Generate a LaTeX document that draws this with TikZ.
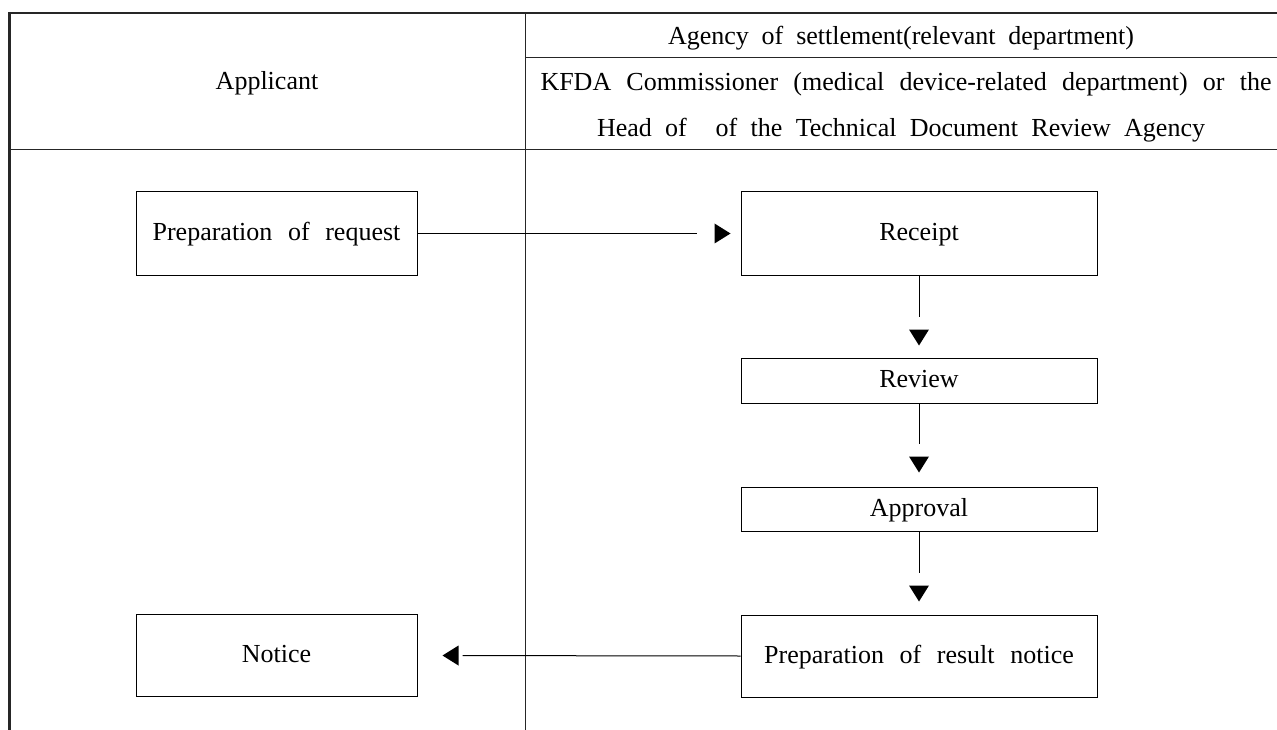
\documentclass[tikz,border=0pt]{standalone}
\usepackage{fontspec}
\setmainfont{Liberation Serif}
\newcommand\diagfont{\fontsize{26}{30}\selectfont}
\newcommand\widespaces{\spaceskip=0.6em plus 0.3em minus 0.3em\relax}
\begin{document}
\begin{tikzpicture}[x=1pt,y=-1pt,
  txt/.style={font=\diagfont, inner sep=0pt, text height=19pt, text depth=5pt, execute at begin node=\widespaces},
  box/.style={txt, draw, line width=1pt},
  frameline/.style={line width=2.5pt, black!85},
  rule/.style={line width=1pt, black!85},
  conn/.style={line width=1pt},
  tip/.style={fill=black}]
\useasboundingbox (0,0) rectangle (1277,730);

% table frame
\draw[frameline] (8,13) -- (1277,13);
\draw[frameline] (9.5,12) -- (9.5,730);
\draw[rule] (525,13) -- (525,730);
\draw[rule] (525,58) -- (1277,58);
\draw[rule] (9,150) -- (1277,150);

% header texts
\node[txt] (app) at (267,82.3) {Applicant};
\node[txt] (agency) at (901,38) {\makebox[466pt][s]{Agency of settlement(relevant department)}};
\node[txt] (kfda) at (906,83.7) {\makebox[731pt][s]{KFDA Commissioner (medical device-related department) or the}};
\node[txt] (head) at (901,130) {\makebox[608pt][s]{Head of\hspace{0.6em} of the Technical Document Review Agency}};

% boxes
\node[box, minimum width=281pt, minimum height=83pt] (req) at (276.5,233.5) {Preparation of request};
\node[box, minimum width=281pt, minimum height=82pt] (notice) at (276.5,655.5) {Notice};
\node[box, minimum width=356pt, minimum height=83pt] (rec) at (919,233.5) {Receipt};
\node[box, minimum width=356pt, minimum height=45pt] (rev) at (919,380.5) {Review};
\node[box, minimum width=356pt, minimum height=44pt] (appr) at (919,509) {Approval};
\node[box, minimum width=356pt, minimum height=82pt] (res) at (919,656) {Preparation of result notice};

% connectors (line, gap, filled triangle, gap)
\draw[conn, shorten >=44pt] (req.east) -- (rec.west);
\fill[tip] ([xshift=-10pt]rec.west) -- ++(-16,-10) -- ++(0,20) -- cycle;

\draw[conn, shorten >=41pt] (rec.south) -- (rev.north);
\fill[tip] ([yshift=12pt]rev.north) -- ++(-10,-16) -- ++(20,0) -- cycle;

\draw[conn, shorten >=43pt] (rev.south) -- (appr.north);
\fill[tip] ([yshift=14pt]appr.north) -- ++(-10,-16) -- ++(20,0) -- cycle;

\draw[conn, shorten >=42pt] (appr.south) -- (res.north);
\fill[tip] ([yshift=13pt]res.north) -- ++(-10,-16) -- ++(20,0) -- cycle;

\draw[conn, shorten >=45pt] (res.west) -- (notice.east);
\fill[tip] ([xshift=25pt]notice.east) -- ++(16,-10) -- ++(0,20) -- cycle;
\end{tikzpicture}
\end{document}
